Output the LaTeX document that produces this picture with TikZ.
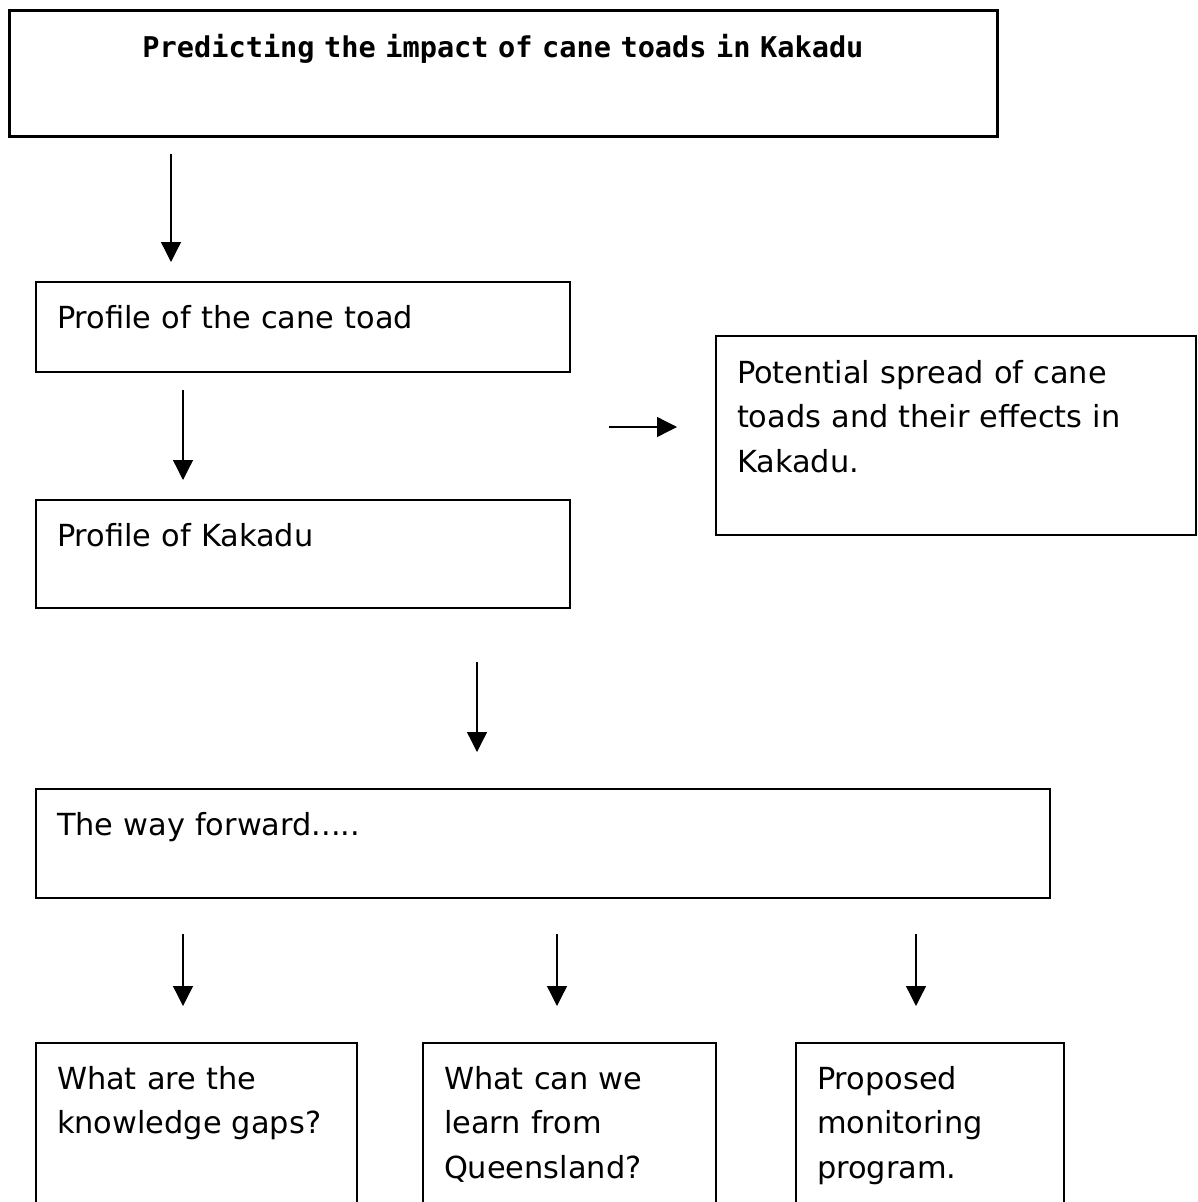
\documentclass[tikz,border=0pt]{standalone}
\usepackage{fontspec}
\setmainfont{DejaVu Sans}
\newfontfamily\headfont{DejaVu Sans Mono}
\usetikzlibrary{arrows.meta}

\begin{document}
\begin{tikzpicture}[x=1pt,y=-1pt,
  box/.style={draw,anchor=north west,align=left,outer sep=0pt,inner xsep=21pt,inner ysep=0pt,
    line width=1.5pt,font=\fontsize{30.4}{44.5}\selectfont,text height=46pt},
  headbox/.style={box,align=center,line width=3pt,font=\headfont\bfseries\fontsize{28.6}{34}\selectfont,text height=47pt},
  arr/.style={->,line width=1.3pt},
  >={Triangle[length=20pt,width=20pt]}]
\useasboundingbox (0,0) rectangle (1197,1202);
\node[headbox,text width=946pt,text depth=79pt] (head) at (9,10) {Predicting the impact of cane toads in Kakadu};
\node[box,text width=492pt,text depth=44pt] (toad) at (36,282) {Profile of the cane toad};
\node[box,text width=492pt,text depth=62pt] (kak) at (36,500) {Profile of Kakadu};
\node[box,text width=438pt,text height=47pt,text depth=152pt] (spr) at (716,336) {Potential spread of cane\\ toads and their effects in\\ Kakadu.};
\node[box,text width=972pt,text depth=63pt] (fwd) at (36,789) {The way forward.....};
\node[box,text width=279pt,text depth=200pt] (gaps) at (36,1043) {What are the\\ knowledge gaps?};
\node[box,text width=251pt,text depth=200pt] (qld) at (423,1043) {What can we\\ learn from\\ Queensland?};
\node[box,text width=226pt,text depth=200pt] (mon) at (796,1043) {Proposed\\ monitoring\\ program.};
\coordinate (cross) at ([shift={(39pt,-55pt)}]toad.south east);
\draw[arr,shorten <=18pt,shorten >=20pt] ([xshift=162pt]head.south west) -- ([xshift=135pt]toad.north west);
\draw[arr,shorten <=18pt,shorten >=20pt] ([xshift=147pt]toad.south west) -- ([xshift=147pt]kak.north west);
\draw[arr,shorten >=39pt] (cross) -- (cross -| spr.west);
\draw[arr,shorten <=54pt,shorten >=37pt] ([xshift=441pt]kak.south west) -- ([xshift=441pt]fwd.north west);
\draw[arr,shorten <=36pt,shorten >=37pt] ([xshift=147pt]fwd.south west) -- ([xshift=147pt]gaps.north west);
\draw[arr,shorten <=36pt,shorten >=37pt] ([xshift=521pt]fwd.south west) -- ([xshift=134pt]qld.north west);
\draw[arr,shorten <=36pt,shorten >=37pt] ([xshift=880pt]fwd.south west) -- ([xshift=120pt]mon.north west);
\end{tikzpicture}
\end{document}
